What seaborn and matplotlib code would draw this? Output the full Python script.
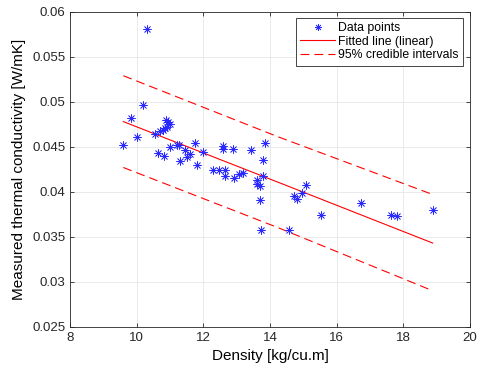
import numpy as np
import pandas as pd
import matplotlib
matplotlib.use("Agg")
import matplotlib.pyplot as plt
import seaborn as sns

# measured points
density = [10.32, 10.2, 9.82, 9.6, 10.02, 10.55, 10.88, 10.95, 11.0, 10.9, 10.85, 10.78, 10.7,
           11.0, 10.63, 10.83, 11.22, 11.28, 11.44, 11.75, 11.6, 11.5, 11.31, 11.8, 12.0,
           12.59, 12.59, 12.89, 13.42, 12.29, 12.47, 12.65, 12.64, 12.91, 13.07, 13.18,
           13.86, 13.79, 13.8, 13.6, 13.6, 13.7, 13.7, 13.72, 14.57, 15.07, 14.95, 14.72,
           14.81, 15.52, 16.73, 17.62, 17.8, 18.88]
conductivity = [0.0581, 0.0497, 0.0482, 0.0452, 0.0461, 0.0464, 0.0480, 0.0477, 0.0475, 0.0472, 0.0471, 0.0469, 0.0467,
                0.0450, 0.0443, 0.0440, 0.0452, 0.0452, 0.0446, 0.0454, 0.0442, 0.0439, 0.0434, 0.0430, 0.0444,
                0.0451, 0.0448, 0.0447, 0.0446, 0.0424, 0.0424, 0.0424, 0.0417, 0.0415, 0.0420, 0.0421,
                0.0454, 0.0435, 0.0417, 0.0413, 0.0409, 0.0406, 0.0391, 0.0358, 0.0358, 0.0407, 0.0399, 0.0395,
                0.0392, 0.0374, 0.0388, 0.0374, 0.0373, 0.0380]

# fitted line and credible band
fit_x = [9.6, 14.25, 18.88]
fit_y = [0.0478, 0.04105, 0.0343]
upper_y = [0.0529, 0.0461, 0.0397]
lower_y = [0.0427, 0.0360, 0.0290]

plt.rcParams['font.family'] = ['Liberation Sans', 'DejaVu Sans']
plt.rcParams['font.size'] = 9.5

pts = pd.DataFrame({"x": density, "y": conductivity})
fit = pd.DataFrame({"x": fit_x, "fit": fit_y, "up": upper_y, "lo": lower_y})

fig = plt.figure(figsize=(4.84, 3.7), dpi=100)
ax = fig.add_axes([0.1446, 0.117, 0.8264, 0.851])

sns.scatterplot(data=pts, x="x", y="y", ax=ax, marker=(8, 2, 0), s=30,
                color="#2a2aff", linewidth=0.55, edgecolor="#2a2aff", zorder=3)
sns.lineplot(data=fit, x="x", y="fit", ax=ax, color="red", linewidth=0.8)
sns.lineplot(data=fit, x="x", y="up", ax=ax, color="red", linewidth=0.8)
sns.lineplot(data=fit, x="x", y="lo", ax=ax, color="red", linewidth=0.8)
ax.lines[-1].set_dashes([8, 4.5])
ax.lines[-2].set_dashes([8, 4.5])

ax.set_xlim(8, 20)
ax.set_ylim(0.025, 0.06)
ax.set_xticks(np.arange(8, 21, 2))
ax.set_yticks(np.arange(0.025, 0.0601, 0.005))
ax.set_yticklabels(["0.025", "0.03", "0.035", "0.04", "0.045", "0.05", "0.055", "0.06"])
ax.grid(True, color="#e6e6e6", linewidth=0.6)
ax.set_axisbelow(True)
ax.tick_params(direction="in", top=True, right=True, length=3, width=0.6, colors="#262626",
               labelsize=9.5)
for s in ax.spines.values():
    s.set_color("#262626")
    s.set_linewidth(0.6)

ax.set_xlabel("Density [kg/cu.m]", fontsize=11)
ax.set_ylabel("Measured thermal conductivity [W/mK]", fontsize=11)

h_pts = plt.Line2D([], [], linestyle="none", marker=(8, 2, 0), color="#2a2aff",
                   markersize=5, markeredgewidth=0.55)
h_fit = plt.Line2D([], [], color="red", linewidth=0.8)
h_ci = plt.Line2D([], [], color="red", linewidth=0.8, dashes=[8, 4.5])
leg = ax.legend([h_pts, h_fit, h_ci],
                ["Data points", "Fitted line (linear)", "95% credible intervals"],
                loc="upper right", bbox_to_anchor=(0.983, 0.982), fancybox=False,
                framealpha=1, edgecolor="#262626", borderpad=0.35, labelspacing=0.15,
                handlelength=2.8, handletextpad=0.3, borderaxespad=0, fontsize=8.8)
leg.get_frame().set_linewidth(0.6)

fig.savefig("out.png", dpi=100)
